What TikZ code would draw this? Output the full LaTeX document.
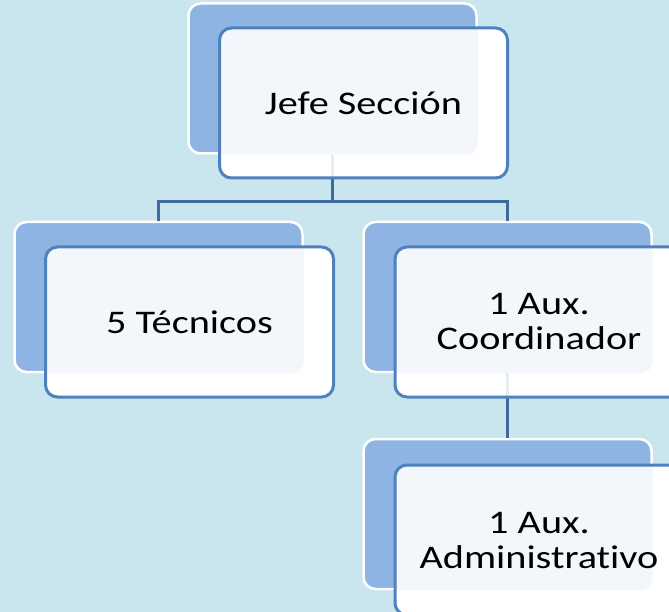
\documentclass[tikz,border=0pt]{standalone}
\usepackage{fontspec}
\setmainfont{Carlito}[FakeStretch=1.22, Ligatures=NoCommon, RawFeature={-liga;-clig;-calt;-dlig}]
\definecolor{bgc}{HTML}{C9E6EF}
\definecolor{backblue}{HTML}{8EB4E3}
\definecolor{frontblue}{HTML}{4F81BD}
\definecolor{linkblue}{HTML}{3F6A9E}
\begin{document}
\begin{tikzpicture}[x=1pt,y=-1pt,
  backbox/.style={rectangle, rounded corners=12pt, minimum width=288pt, minimum height=150pt,
    fill=backblue, draw=white, line width=2.5pt, inner sep=0pt},
  frontbase/.style={rectangle, rounded corners=12pt, minimum width=288pt, minimum height=150pt,
    draw=frontblue, line width=3pt, fill=white, align=center, inner sep=0pt,
    font=\fontsize{33}{35}\selectfont, text=black},
  front/.style={frontbase, path picture={
    \fill[backblue, opacity=0.1, rounded corners=12pt] (#1.north west) rectangle (#1.south east);}},
  frontline/.style={frontbase, path picture={
    \fill[backblue, opacity=0.1, rounded corners=12pt] (#1.north west) rectangle (#1.south east);
    \draw[linkblue, opacity=0.12, line width=3pt] (#1.south) -- ++(0,40);}},
  link/.style={draw=linkblue, line width=3pt}]
\useasboundingbox (0,0) rectangle (669,612);
\clip (0,0) rectangle (669,612);
\fill[bgc] (0,0) rectangle (669,612);
% back boxes
\node[backbox] (b0) at (332.5,78.5) {};
\node[backbox] (b1) at (158.5,297) {};
\node[backbox] (b2) at (507.5,297) {};
\node[backbox] (b3) at (507.5,514) {};
% connectors
\coordinate (j) at (332.5,202);
\draw[link] (b0.south) -- (j) -| (b1.north);
\draw[link] (j) -| (b2.north);
\draw[link] (b2.south) -- (b3.north);
% front boxes
\node[frontline=b0] (f0) at (363.5,103) {Jefe Sección};
\node[front=b1] (f1) at (189.5,322) {5 Técnicos};
\node[frontline=b2] (f2) at (539,322) {1 Aux.\\Coordinador};
\node[front=b3] (f3) at (539,540) {1 Aux.\\Administrativo};
\end{tikzpicture}
\end{document}
